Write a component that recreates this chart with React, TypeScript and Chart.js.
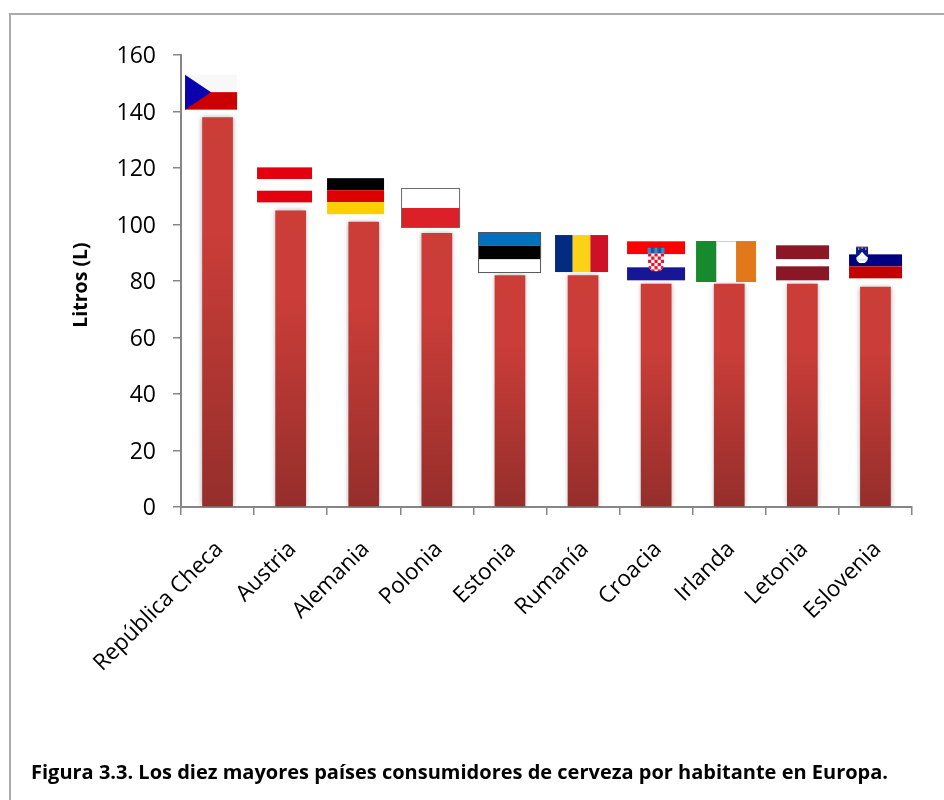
import React, { useEffect, useRef } from "react";
import { Chart, registerables } from "chart.js";

Chart.register(...registerables);

const countries = ["República Checa", "Austria", "Alemania", "Polonia", "Estonia", "Rumanía", "Croacia", "Irlanda", "Letonia", "Eslovenia"];
const litros = [138, 105, 101, 97, 82, 82, 79, 79, 79, 78];
const yAxisTitle = "Litros (L)";
const caption = "Figura 3.3. Los diez mayores países consumidores de cerveza por habitante en Europa.";

type FlagSpec = {
  dx: number; gap: number; w: number; h: number;
  dir: "h" | "v";
  bands: [string, number][];
  border?: string;
  extra?: "czech" | "croatia" | "slovenia" | "ireland";
};

// Flags sit above each bar: offset from the bar centre and gap above the bar's top
const flags: FlagSpec[] = [
  { dx: -32.5, gap: 7.5, w: 52, h: 35, dir: "h", bands: [["#f8f8f8", 1], ["#cc0000", 1]], extra: "czech" },
  { dx: -33.6, gap: 8, w: 55, h: 35, dir: "h", bands: [["#e3000f", 1], ["#fafdfd", 1], ["#e3000f", 1]] },
  { dx: -36.7, gap: 7.5, w: 57, h: 36, dir: "h", bands: [["#000000", 1], ["#dd0000", 1], ["#ffce00", 1]] },
  { dx: -35.8, gap: 5, w: 59, h: 40, dir: "h", bands: [["#ffffff", 1], ["#dc2028", 1]], border: "#6a6a6a" },
  { dx: -31.9, gap: 2.3, w: 63, h: 41, dir: "h", bands: [["#0072bb", 1], ["#000000", 1], ["#ffffff", 1]], border: "#555555" },
  { dx: -28, gap: 3.3, w: 53, h: 37, dir: "v", bands: [["#002b7f", 1], ["#fcd116", 1], ["#ce1126", 1]] },
  { dx: -29.1, gap: 3.5, w: 58, h: 39, dir: "h", bands: [["#ff0000", 1], ["#ffffff", 1], ["#171796", 1]], extra: "croatia" },
  { dx: -33.2, gap: 1.8, w: 60, h: 41, dir: "v", bands: [["#178a2d", 1], ["#ffffff", 1], ["#e2781a", 1]], extra: "ireland" },
  { dx: -26.3, gap: 3.5, w: 53, h: 35, dir: "h", bands: [["#8a1626", 2], ["#ffffff", 1], ["#8a1626", 2]] },
  { dx: -26.4, gap: 8.3, w: 53, h: 24, dir: "h", bands: [["#000080", 1], ["#c40000", 1]], extra: "slovenia" },
];

function drawShield(ctx: CanvasRenderingContext2D, x: number, y: number, w: number, h: number) {
  ctx.beginPath();
  ctx.moveTo(x, y);
  ctx.lineTo(x + w, y);
  ctx.lineTo(x + w, y + h * 0.6);
  ctx.quadraticCurveTo(x + w * 0.95, y + h, x + w / 2, y + h);
  ctx.quadraticCurveTo(x + w * 0.05, y + h, x, y + h * 0.6);
  ctx.closePath();
}

function drawExtra(ctx: CanvasRenderingContext2D, f: FlagSpec, x: number, y: number) {
  if (f.extra === "czech") {
    ctx.fillStyle = "#0a00ad";
    ctx.beginPath();
    ctx.moveTo(x, y);
    ctx.lineTo(x + f.w / 2, y + f.h / 2);
    ctx.lineTo(x, y + f.h);
    ctx.closePath();
    ctx.fill();
  }
  if (f.extra === "ireland") {
    ctx.fillStyle = "#cfcfcf";
    ctx.fillRect(x + f.w / 3, y, f.w / 3, 1);
    ctx.fillRect(x + f.w / 3, y, 1, f.h);
  }
  if (f.extra === "croatia") {
    const sx = x + 21, sy = y + 12, sw = 16, sh = 18;
    ctx.save();
    ctx.fillStyle = "#ffffff";
    drawShield(ctx, sx, sy, sw, sh);
    ctx.fill();
    ctx.clip();
    const n = 5, c = sw / n;
    ctx.fillStyle = "#e8112d";
    for (let r = 0; r < 6; r++) {
      for (let k = 0; k < n; k++) {
        if ((r + k) % 2 === 0) ctx.fillRect(sx + k * c, sy + r * c, c, c);
      }
    }
    ctx.restore();
    const crown = ["#2f8fc9", "#17569b", "#2f8fc9", "#17569b", "#2f8fc9"];
    crown.forEach((col, k) => {
      ctx.fillStyle = col;
      ctx.fillRect(sx + k * 3.4 - 0.5, y + 6.5 - (k % 2) * 1, 3.4, 5.5 + (k % 2) * 1);
    });
  }
  if (f.extra === "slovenia") {
    const sx = x + 7, sy = y - 7.5, sw = 12, sh = 16.5;
    ctx.save();
    ctx.fillStyle = "#0a1a8c";
    drawShield(ctx, sx, sy, sw, sh);
    ctx.fill();
    ctx.clip();
    ctx.fillStyle = "#ffffff";
    ctx.beginPath();
    ctx.moveTo(sx, sy + 11);
    ctx.lineTo(sx + 3, sy + 8.5);
    ctx.lineTo(sx + 6, sy + 5);
    ctx.lineTo(sx + 9, sy + 8.5);
    ctx.lineTo(sx + 12, sy + 11);
    ctx.lineTo(sx + 12, sy + sh);
    ctx.lineTo(sx, sy + sh);
    ctx.closePath();
    ctx.fill();
    ctx.fillStyle = "#bfe3ea";
    ctx.fillRect(sx, sy + 12.5, sw, 1.2);
    ctx.fillStyle = "#ffd83a";
    [[2, 1.5], [9, 1.5], [5.5, 0.5]].forEach(([a, b]) => ctx.fillRect(sx + a, sy + b, 1.3, 1.3));
    ctx.restore();
    ctx.strokeStyle = "#a05a78";
    ctx.lineWidth = 0.7;
    ctx.beginPath();
    ctx.moveTo(sx, sy + 0.3);
    ctx.lineTo(sx + sw, sy + 0.3);
    ctx.stroke();
  }
}

const flagPlugin = {
  id: "flagPlugin",
  afterDatasetsDraw(chart: any) {
    const ctx: CanvasRenderingContext2D = chart.ctx;
    const xs = chart.scales.x;
    const ys = chart.scales.y;
    ctx.save();
    ctx.shadowColor = "transparent";
    flags.forEach((f, i) => {
      const x = xs.getPixelForValue(i) + f.dx;
      const y = ys.getPixelForValue(litros[i]) - f.gap - f.h;
      const total = f.bands.reduce((s, b) => s + b[1], 0);
      let pos = 0;
      f.bands.forEach(([col, weight]) => {
        ctx.fillStyle = col;
        if (f.dir === "h") {
          ctx.fillRect(x, y + (pos / total) * f.h, f.w, (weight / total) * f.h);
        } else {
          ctx.fillRect(x + (pos / total) * f.w, y, (weight / total) * f.w, f.h);
        }
        pos += weight;
      });
      drawExtra(ctx, f, x, y);
      if (f.border) {
        ctx.strokeStyle = f.border;
        ctx.lineWidth = 1;
        ctx.strokeRect(x + 0.5, y + 0.5, f.w - 1, f.h - 1);
      }
    });
    ctx.restore();
  },
};

const barShadowPlugin = {
  id: "barShadowPlugin",
  beforeDatasetsDraw(chart: any) {
    const ctx = chart.ctx;
    ctx.save();
    ctx.shadowColor = "rgba(0,0,0,0.35)";
    ctx.shadowBlur = 5;
    // each bar carries its own top-to-bottom gradient
    const yScale = chart.scales.y;
    chart.getDatasetMeta(0).data.forEach((el: any, i: number) => {
      const g = ctx.createLinearGradient(0, yScale.getPixelForValue(litros[i]), 0, yScale.getPixelForValue(0));
      g.addColorStop(0, "#cc3d38");
      g.addColorStop(0.3, "#ca3d38");
      g.addColorStop(1, "#952e2b");
      el.options = { ...el.options, backgroundColor: g };
    });
  },
  afterDatasetsDraw(chart: any) {
    chart.ctx.restore();
  },
};

// The axis title sits a little below the middle of the axis in the reference
const titleShiftPlugin = {
  id: "titleShiftPlugin",
  afterLayout(chart: any) {
    const s = chart.scales.y;
    const original = Object.getPrototypeOf(s).drawTitle;
    s.drawTitle = function () {
      const bottom = this.bottom;
      this.bottom = bottom + 8;
      original.call(this);
      this.bottom = bottom;
    };
  },
};

export default function App() {
  const ref = useRef<HTMLCanvasElement>(null);

  useEffect(() => {
    const chart = new Chart(ref.current!, {
      type: "bar",
      plugins: [barShadowPlugin, flagPlugin, titleShiftPlugin],
      data: {
        labels: countries,
        datasets: [
          {
            data: litros,
            barPercentage: 0.42,
            categoryPercentage: 1,
            backgroundColor: "#b83733",
          },
        ],
      },
      options: {
        responsive: false,
        animation: false,
        layout: { padding: { left: 70, top: 55, right: 32, bottom: 93 } },
        plugins: {
          legend: { display: false },
          tooltip: { enabled: false },
        },
        scales: {
          x: {
            offset: true,
            afterFit: (s: any) => { s.height = 200; },
            border: { color: "#868686", width: 2 },
            grid: {
              offset: true,
              drawOnChartArea: false,
              color: "#868686",
              lineWidth: 1.5,
              tickLength: 8,
            },
            ticks: {
              minRotation: 45,
              maxRotation: 45,
              autoSkip: false,
              padding: 21,
              labelOffset: 2,
              color: "#000000",
              font: { family: "Open Sans", size: 22.5 },
            },
          },
          y: {
            min: 0,
            max: 160,
            afterFit: (s: any) => { s.width = 111; },
            border: { color: "#868686", width: 2 },
            grid: {
              drawOnChartArea: false,
              color: "#868686",
              lineWidth: 1.5,
              tickLength: 8,
            },
            ticks: {
              stepSize: 20,
              padding: 17,
              labelOffset: 1.5,
              color: "#000000",
              font: { family: "Open Sans", size: 23 },
            },
            title: {
              display: true,
              text: yAxisTitle,
              color: "#000000",
              padding: 0,
              font: { family: "Open Sans", size: 19.5, weight: "bold" },
            },
          },
        },
      },
    } as any);
    return () => chart.destroy();
  }, []);

  return (
    <div style={{ position: "absolute", left: 0, top: 0, width: 944, height: 800, overflow: "hidden", background: "#ffffff" }}>
      <div style={{ position: "absolute", left: 9, top: 13, width: 960, height: 820, borderLeft: "2px solid #aaaaaa", borderTop: "2px solid #aaaaaa" }} />
      <canvas ref={ref} width={944} height={800} style={{ position: "absolute", left: 0, top: 0, display: "block" }} />
      <div style={{ position: "absolute", left: 31, top: 758, fontFamily: "Open Sans", fontWeight: "bold", fontSize: 20, color: "#000000", whiteSpace: "nowrap" }}>
        {caption}
      </div>
    </div>
  );
}
